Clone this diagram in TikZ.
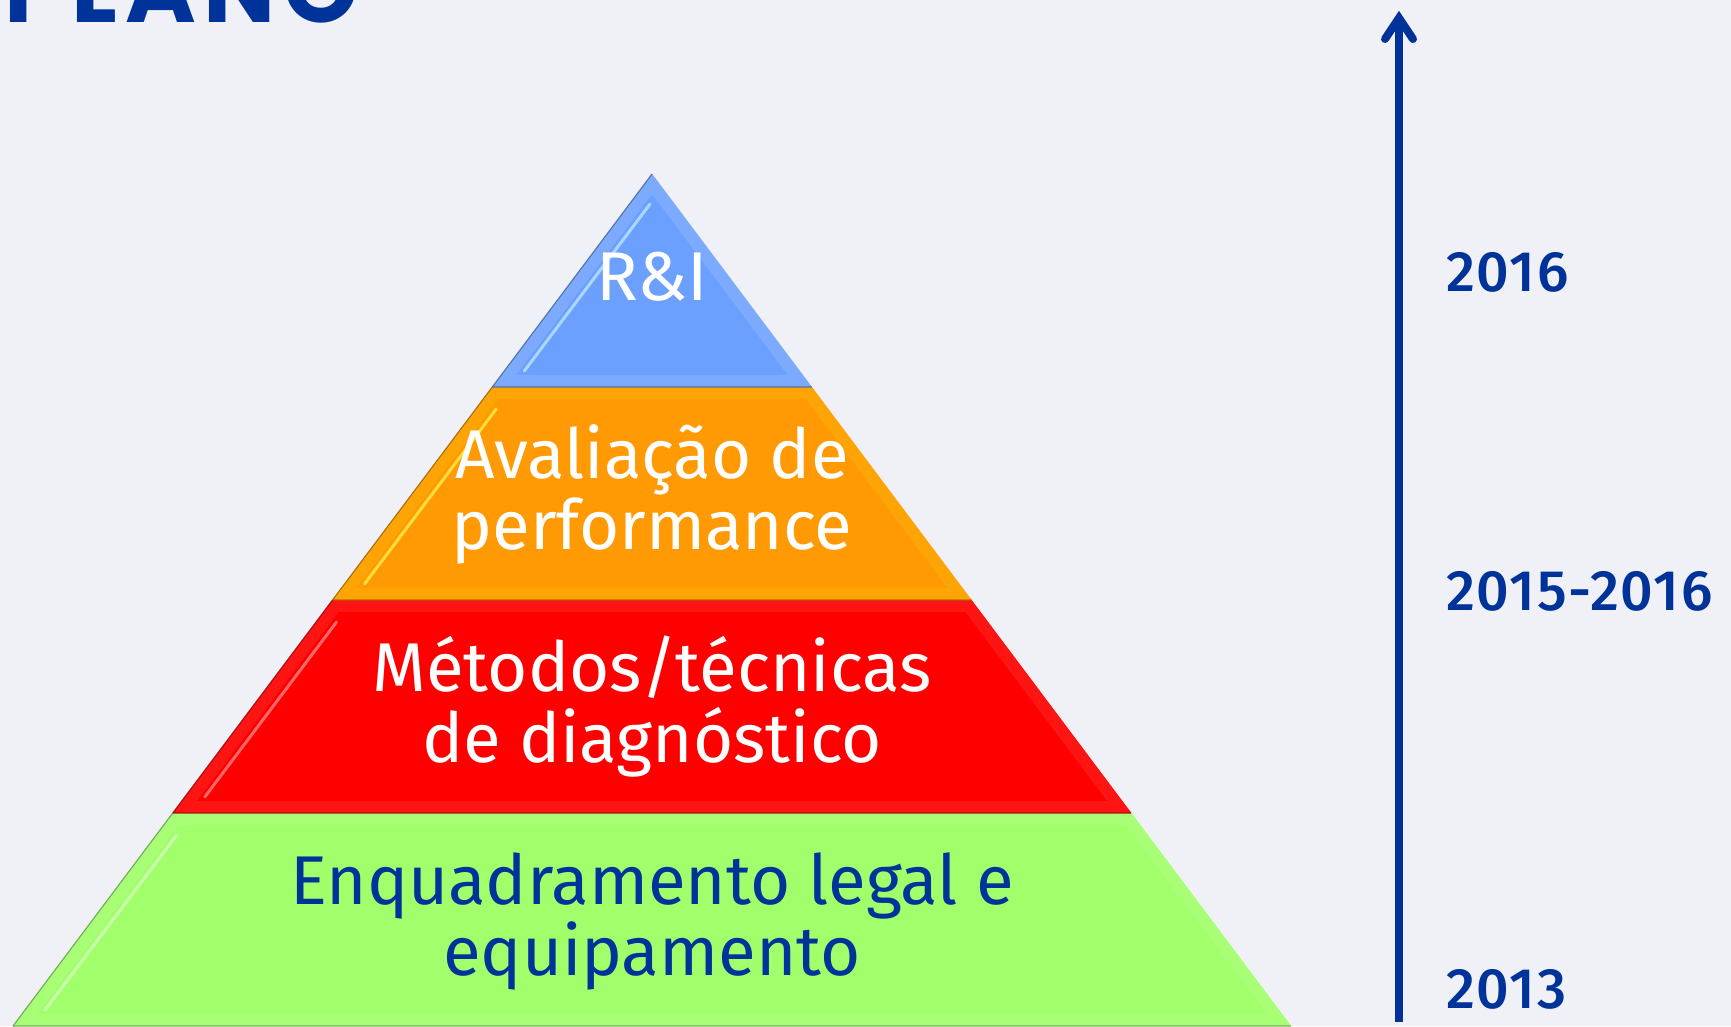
\documentclass[tikz,border=0pt]{standalone}
\usepackage{fontspec}
\setmainfont{Fira Sans}
\newfontfamily\labelfont{Fira Sans}
\newfontfamily\yearfont{Fira Sans Medium}[LetterSpace=3]
\newfontfamily\titlefont{Poppins}[LetterSpace=8]
\definecolor{bgcol}{HTML}{EFF1F7}
\definecolor{dkblue}{HTML}{003399}
\definecolor{tblue}{HTML}{6CA0FF}
\definecolor{torange}{HTML}{FF9A05}
\definecolor{tred}{HTML}{FF0000}
\definecolor{tgreen}{HTML}{A0FF6A}
\newcommand\tierbox[5]{%
  \pgfmathsetmacro\tyA{#1}%
  \pgfmathsetmacro\tyB{#2}%
  \pgfmathsetmacro\tyAi{max(#1+12,194)}%
  \pgfmathsetmacro\tyBi{#2-12}%
  \pgfmathsetmacro\thA{0.75*(\tyA-174)}%
  \pgfmathsetmacro\thB{0.75*(\tyB-174)}%
  \pgfmathsetmacro\thAi{max(0.75*(\tyAi-174)-15,0)}%
  \pgfmathsetmacro\thBi{0.75*(\tyBi-174)-15}%
  \fill[#3] (652-\thA,\tyA) -- (652+\thA,\tyA) -- (652+\thB,\tyB) -- (652-\thB,\tyB) -- cycle;
  \fill[#4] (652-\thA,\tyA) -- (652-\thB,\tyB) -- (652-\thBi,\tyBi) -- (652-\thAi,\tyAi) -- cycle;
  \fill[#4] (652+\thA,\tyA) -- (652+\thB,\tyB) -- (652+\thBi,\tyBi) -- (652+\thAi,\tyAi) -- cycle;
  \fill[#4] (652-\thB,\tyB) -- (652+\thB,\tyB) -- (652+\thBi,\tyBi) -- (652-\thBi,\tyBi) -- cycle;
  \fill[#4] (652-\thA,\tyA) -- (652+\thA,\tyA) -- (652+\thAi,\tyAi) -- (652-\thAi,\tyAi) -- cycle;
  \draw[#5, line width=3pt, line cap=round, opacity=.75]
    (652-\thAi-2,\tyAi+10) -- (652-\thBi+8,\tyBi-4);
  \draw[#3!55!black, line width=1.2pt, opacity=.7]
    (652-\thA,\tyA) -- (652-\thB,\tyB);
  \draw[#3!55!black, line width=2pt, opacity=.45]
    (652-\thB,\tyB) -- (652+\thB,\tyB);
}
\tikzset{
  lbl/.style={font=\labelfont\fontsize{69}{71}\selectfont, align=center, anchor=base, inner sep=0pt},
  year/.style={font=\yearfont\fontsize{57}{57}\selectfont, text=dkblue, anchor=base west, inner sep=0pt},
  arrowsty/.style={draw=dkblue, line width=8pt}
}
\begin{document}
\begin{tikzpicture}[x=1pt,y=-1pt]
\useasboundingbox (0,0) rectangle (1731,1026);
\clip (0,0) rectangle (1731,1026);
\fill[bgcol] (0,0) rectangle (1731,1026);
% title (cut off at top)
\node[font=\titlefont\bfseries\fontsize{96}{96}\selectfont, text=dkblue, anchor=base west, inner sep=0pt] (title) at (4,22) {PLANO};
% pyramid tiers
\tierbox{813}{1026}{tgreen}{tgreen!92!white}{tgreen!40!white}
\tierbox{600}{813}{tred}{tred!92!white}{tred!45!white}
\tierbox{387}{600}{torange}{torange!90!yellow}{yellow!70!white}
\tierbox{174}{387}{tblue}{tblue!90!white}{cyan!25!white}
% labels (base anchor = baseline of the last line)
\node[lbl, text=white] (ri) at (652,300) {R\&I};
\node[lbl, text=white] (av) at (652,549) {Avaliação de\\performance};
\node[lbl, text=white] (mt) at (652,762) {Métodos/técnicas\\de diagnóstico};
\node[lbl, text=dkblue] (en) at (652,975) {Enquadramento legal e\\equipamento};
% time arrow
\coordinate (abot) at (1399,1022);
\coordinate (atop) at (1399,18);
\coordinate (awl) at (1385,39);
\coordinate (awr) at (1413,39);
\draw[arrowsty] (abot) -- (atop);
\draw[arrowsty, line cap=round, line join=miter] (awl) -- (atop) -- (awr);
% years
\node[year] (y16) at (1446,291) {2016};
\node[year] (y1516) at (1446,610) {2015-2016};
\node[year] (y13) at (1446,1008) {2013};
\end{tikzpicture}
\end{document}
